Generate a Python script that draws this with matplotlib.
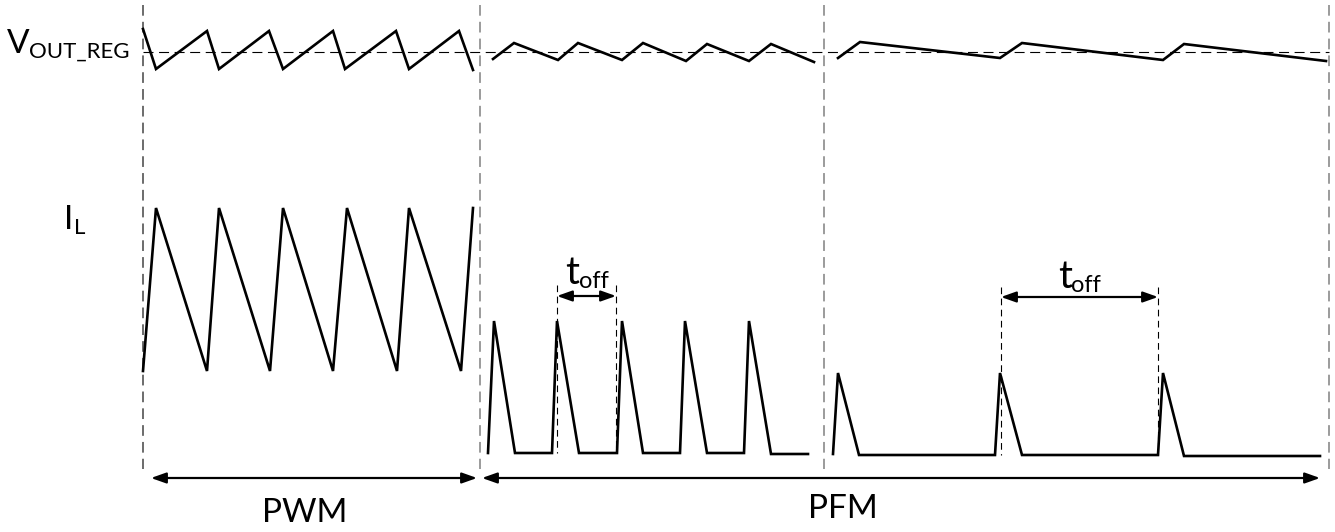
import matplotlib
matplotlib.use("Agg")
import matplotlib.pyplot as plt

# All coordinates are in image pixels (x to the right, y downwards),
# read off the reference timing diagram.
W, H = 1335, 532

# Output voltage ripple, PWM then two PFM segments
vout_pwm_x = [143, 156, 207, 219, 269, 283, 333, 345, 396, 409, 459, 473]
vout_pwm_y = [29, 69, 31, 69, 31, 69, 31, 69, 31, 69, 31, 70]
vout_pfm1_x = [493, 514, 558, 578, 622, 643, 686, 707, 749, 771, 814]
vout_pfm1_y = [59, 43, 60, 43, 60, 43, 61, 44, 61, 44, 62]
vout_pfm2_x = [838, 860, 1000, 1022, 1163, 1184, 1326]
vout_pfm2_y = [58, 42, 58, 43, 60, 44, 61]

# Inductor current
il_pwm_x = [143, 156, 207, 219, 270, 283, 333, 347, 397, 409, 461, 473]
il_pwm_y = [371, 208, 371, 208, 371, 208, 371, 208, 371, 208, 371, 208]
il_pfm1_x = [488, 494, 515, 552, 557, 579, 617, 622, 643, 680, 685, 707, 744, 749, 771, 808]
il_pfm1_y = [453, 321, 453, 453, 321, 453, 453, 321, 453, 453, 321, 453, 453, 321, 454, 454]
il_pfm2_x = [833, 838, 859, 995, 1000, 1022, 1158, 1163, 1184, 1320]
il_pfm2_y = [454, 373, 455, 455, 373, 455, 455, 373, 456, 456]

# Mode boundaries and reference level
bounds_x = [143, 480, 824, 1329]
bounds_top, bounds_bot = 5, 469
vref_y = 52

# t_off markers: (x_start, x_end, arrow_y, dash_top, dash_bottom, text_baseline)
toff = [(557, 616, 296, 285, 453, 284),
        (1001, 1158, 297, 287, 455, 288)]

# Mode spans along the bottom
modes = ["PWM", "PFM"]
mode_x0 = [151, 482]
mode_x1 = [477, 1320]
mode_arrow_y = 478
mode_text_x = [305, 843]
mode_text_y = [522, 518]

FONT = ["Lato", "DejaVu Sans"]
plt.rcParams["font.family"] = FONT

fig = plt.figure(figsize=(W / 100, H / 100), dpi=100)
ax = fig.add_axes([0, 0, 1, 1])
ax.set_xlim(0, W)
ax.set_ylim(H, 0)
ax.axis("off")

# boundaries
for i, bx in enumerate(bounds_x):
    ax.plot([bx, bx], [bounds_top, bounds_bot],
            color="#444444" if i == 0 else "#808080",
            lw=1.1, dashes=(7, 4))
ax.plot([bounds_x[0], bounds_x[-1]], [vref_y, vref_y],
        color="black", lw=0.8, dashes=(9, 5))

wave = dict(color="black", lw=1.9, solid_joinstyle="miter")
for xs, ys in [(vout_pwm_x, vout_pwm_y), (vout_pfm1_x, vout_pfm1_y),
               (vout_pfm2_x, vout_pfm2_y), (il_pwm_x, il_pwm_y),
               (il_pfm1_x, il_pfm1_y), (il_pfm2_x, il_pfm2_y)]:
    ax.plot(xs, ys, **wave)

arrow = dict(arrowstyle="<|-|>,head_length=0.9,head_width=0.32",
             color="black", lw=1.6, shrinkA=0, shrinkB=0)

for x0, x1, ay, dt, db, tb in toff:
    for xx in (x0, x1):
        ax.plot([xx, xx], [dt, db], color="black", lw=0.8, dashes=(6, 4))
    ax.annotate("", xy=(x1, ay), xytext=(x0, ay), arrowprops=arrow)
    cx = (x0 + x1) / 2
    ax.text(cx - 7, tb, "t", fontsize=28, ha="right", va="baseline")
    ax.text(cx - 8, tb + 4, "off", fontsize=17, ha="left", va="baseline")

for name, x0, x1, tx, ty in zip(modes, mode_x0, mode_x1, mode_text_x, mode_text_y):
    ax.annotate("", xy=(x1, mode_arrow_y), xytext=(x0, mode_arrow_y),
                arrowprops=arrow)
    ax.text(tx, ty, name, fontsize=24, ha="center", va="baseline")

# signal labels
ax.text(7, 53, "V", fontsize=24, ha="left", va="baseline")
ax.text(29, 58, "OUT_REG", fontsize=16, ha="left", va="baseline")
ax.text(64, 229, "I", fontsize=24, ha="left", va="baseline")
ax.text(74, 234, "L", fontsize=16, ha="left", va="baseline")

fig.savefig("out.png", dpi=100, facecolor="white")
